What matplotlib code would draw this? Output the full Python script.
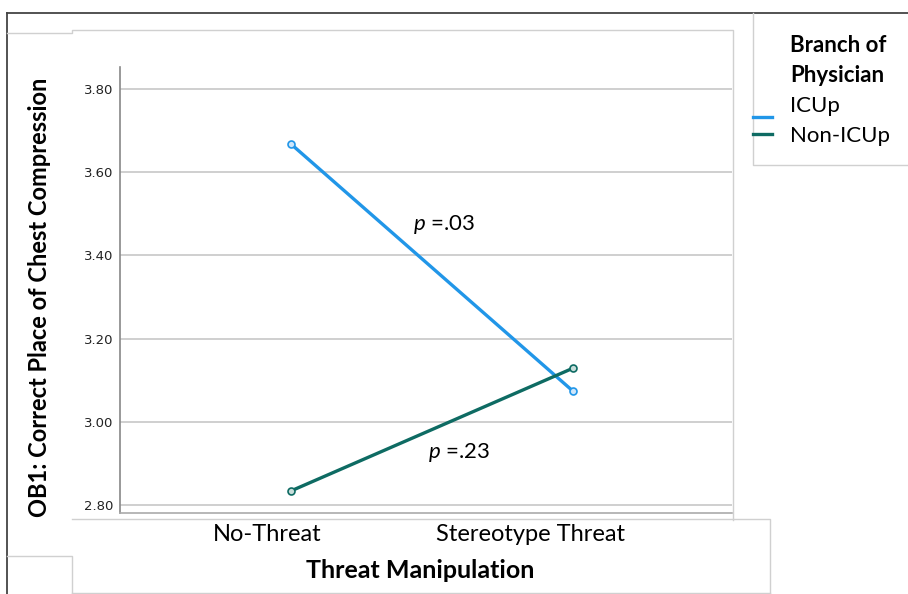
import matplotlib.pyplot as plt
from matplotlib.lines import Line2D

W, H = 908, 594

conditions = ["No-Threat", "Stereotype Threat"]
icup = [3.668, 3.074]
non_icup = [2.834, 3.129]
y_ticks = [2.80, 3.00, 3.20, 3.40, 3.60, 3.80]

c_icu = "#2196e8"
c_non = "#0e6b63"

plt.rcParams["mathtext.fontset"] = "custom"
plt.rcParams["mathtext.it"] = "Lato:italic"
plt.rcParams["mathtext.rm"] = "Lato"

fig = plt.figure(figsize=(W / 100, H / 100), dpi=100)
fig.patch.set_facecolor("white")

def fx(x):
    return x / W

def fy(y):
    return 1 - y / H

def fline(xs, ys, color="#d0d0d0", lw=1.0):
    fig.add_artist(Line2D([fx(x) for x in xs], [fy(y) for y in ys],
                          color=color, lw=lw, transform=fig.transFigure))

# screenshot panel frames
fline([7, 908], [13, 13], color="#444444", lw=1.3)
fline([7, 7], [13, 594], color="#444444", lw=1.3)
fline([7, 72, 72, 733, 733], [33, 33, 30, 30, 520])
fline([753, 753, 908], [13, 165, 165])
fline([72, 770, 770], [519, 519, 594])
fline([7, 72, 72], [556, 556, 594])
fline([72, 770], [593, 593])

ax = fig.add_axes([fx(120), fy(513), fx(732 - 120), (513 - 67) / H])
x = [0, 1]
ax.plot(x, icup, color=c_icu, lw=2.4, marker="o", ms=5, mfc="#cfe6fa",
        mec=c_icu, mew=1.2, zorder=3)
ax.plot(x, non_icup, color=c_non, lw=2.4, marker="o", ms=5, mfc="#c8ddda",
        mec=c_non, mew=1.2, zorder=3)

ax.set_xlim(-0.606, 1.564)
ax.set_ylim(2.781, 3.853)
ax.set_yticks(y_ticks)
ax.set_yticklabels([f"{v:.2f}" for v in y_ticks], fontsize=9.5, color="#222222",
                   family="DejaVu Sans")
# category labels sit a little left of the points in the original
ax.set_xticks([-0.083, 0.848])
ax.set_xticklabels(conditions, fontsize=17, family="Lato")
ax.tick_params(axis="x", length=0, pad=8)
ax.tick_params(axis="y", length=0, pad=5)
ax.grid(axis="y", color="#cccccc", lw=1.3)
ax.set_axisbelow(True)
for s in ["top", "right"]:
    ax.spines[s].set_visible(False)
ax.spines["left"].set_color("#888888")
ax.spines["bottom"].set_color("#aaaaaa")
ax.spines["left"].set_linewidth(1.2)
ax.spines["bottom"].set_linewidth(1.2)

ax.text(0.479, 0.646, r"$p$ =.03", transform=ax.transAxes, fontsize=16,
        family="Lato", va="center")
ax.text(0.503, 0.135, r"$p$ =.23", transform=ax.transAxes, fontsize=16,
        family="Lato", va="center")

fig.text(fx(40), fy(297), "OB1: Correct Place of Chest Compression",
         rotation=90, ha="center", va="center", fontsize=17,
         fontweight="bold", family="Lato")
fig.text(fx(420), fy(570), "Threat Manipulation", ha="center", va="center",
         fontsize=18, fontweight="bold", family="Lato")

# legend
fig.text(fx(790), fy(45), "Branch of", fontsize=16, fontweight="bold",
         family="Lato", va="center")
fig.text(fx(790), fy(76), "Physician", fontsize=16, fontweight="bold",
         family="Lato", va="center")
fig.text(fx(790), fy(106), "ICUp", fontsize=16, family="Lato", va="center")
fig.text(fx(790), fy(136), "Non-ICUp", fontsize=16, family="Lato", va="center")
fline([753, 772], [117, 117], color=c_icu, lw=2.4)
fline([753, 772], [134, 134], color=c_non, lw=2.4)

fig.savefig("out.png", dpi=100)
